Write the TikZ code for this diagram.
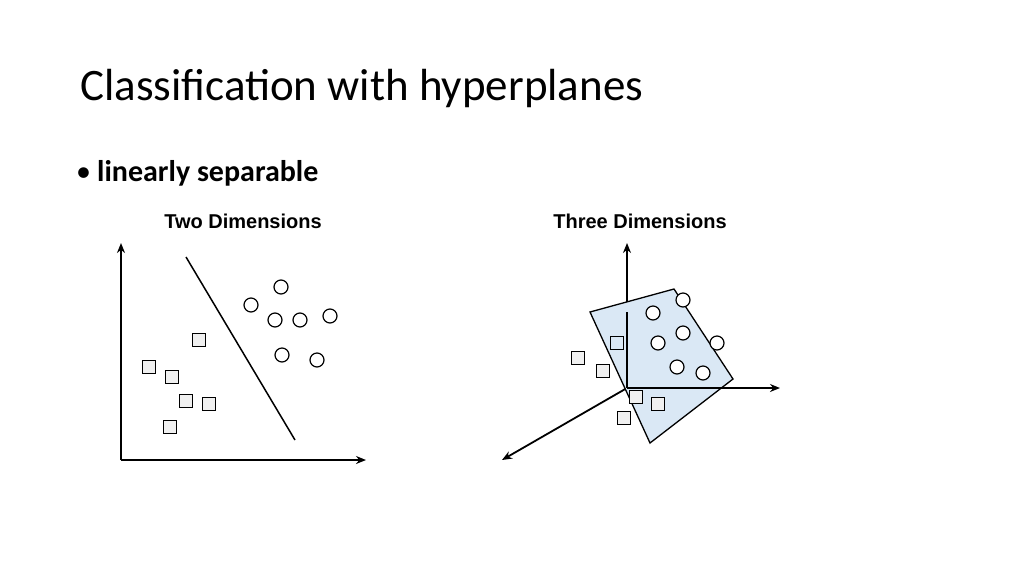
\documentclass[tikz,border=0pt]{standalone}
\usepackage{fontspec}
\setmainfont{Carlito}
\newfontfamily\lab{Liberation Sans}
\usetikzlibrary{arrows.meta}
\begin{document}
\begin{tikzpicture}[x=1pt,y=-1pt,
  ax/.style={line width=1.8pt,-{Stealth[length=10pt,width=8pt]}},
  circ/.style={circle,draw,line width=1.2pt,minimum size=14pt,inner sep=0pt,fill=white},
  sq/.style={rectangle,draw,line width=1.2pt,minimum size=13pt,inner sep=0pt,fill=gray!12},
  ttl/.style={font=\lab\bfseries\fontsize{20}{22}\selectfont}]
\useasboundingbox (0,0) rectangle (1024,576);
\node[anchor=base west,inner sep=0pt,font=\fontsize{45}{50}\selectfont] (title) at (80,100) {Classification with hyperplanes};
\node[anchor=base west,inner sep=0pt,font=\fontsize{30}{34}\selectfont] (bul) at (76,181) {\textbullet};
\node[anchor=base west,inner sep=0pt,font=\fontsize{30}{34}\selectfont\bfseries] (bt) at (97,181) {linearly separable};
\node[ttl] (t2) at (243,221) {Two Dimensions};
\node[ttl] (t3) at (640,221) {Three Dimensions};
% 2D
\coordinate (o2) at (121,460);
\coordinate (y2) at (121,243);
\coordinate (x2) at (366,460);
\draw[ax] (o2) -- (y2);
\draw[ax] (o2) -- (x2);
\coordinate (l1) at (186,257); \coordinate (l2) at (295,440);
\draw[line width=1.5pt] (l1) -- (l2);
\foreach \p in {(281,287),(251,305),(275,320),(300,320),(330,316),(282,355),(317,360)}
  \node[circ] at \p {};
\foreach \p in {(199,340),(149,367),(172,377),(186,401),(209,404),(170,427)}
  \node[sq] at \p {};
% 3D
\coordinate (o3) at (627,388);
\draw[ax] (o3) -- (627,243);
\draw[ax] (o3) -- (502,460);
\foreach \p in {(578,358),(603,371)} \node[sq] at \p {};
\draw[line width=1.3pt,fill={rgb,255:red,218;green,232;blue,245}] (590,312) -- (674,289) -- (733,379) -- (650,443) -- cycle;
\node[sq,fill=none] at (617,343) {};
\draw[line width=1.8pt] (627,312) -- (o3);
\draw[ax] (o3) -- (780,388);
\foreach \p in {(653,313),(683,300),(683,333),(658,343),(717,343),(677,367),(703,373)}
  \node[circ] at \p {};
\foreach \p in {(636,397),(658,404),(624,418)} \node[sq] at \p {};
\end{tikzpicture}
\end{document}
